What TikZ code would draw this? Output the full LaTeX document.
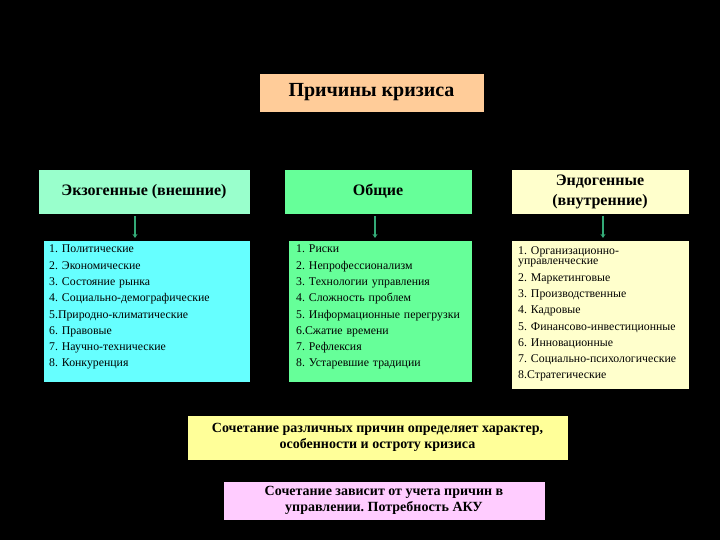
\documentclass[tikz,border=0pt]{standalone}
\usepackage{fontspec}
\setmainfont{Liberation Serif}
\usepackage{xcolor}
\usetikzlibrary{arrows.meta, calc, positioning}
\frenchspacing

\definecolor{titlefill}{HTML}{FFCC99}
\definecolor{exohead}{HTML}{99FFCC}
\definecolor{commonfill}{HTML}{66FF99}
\definecolor{endofill}{HTML}{FFFFCC}
\definecolor{exofill}{HTML}{66FFFF}
\definecolor{mixfill}{HTML}{FFFF99}
\definecolor{akufill}{HTML}{FFCCFF}
\definecolor{arrowcol}{HTML}{33AA77}

\tikzset{
  box/.style={rectangle, draw=black, line width=0.4pt, inner sep=0pt},
  head/.style={box, font=\bfseries\fontsize{16}{20}\selectfont, align=center},
  list/.style={box, font=\fontsize{11.8}{16.3}\selectfont\frenchspacing, align=left, anchor=north west},
  arr/.style={-{Stealth[length=4pt,width=5pt]}, draw=arrowcol, line width=1.8pt, shorten <=2pt, shorten >=2pt}
}

\begin{document}
\begin{tikzpicture}[x=1pt, y=-1pt]
  \fill[black] (0,0) rectangle (720,540);
  \useasboundingbox (0,0) rectangle (720,540);

  \node[head, fill=titlefill, minimum width=225pt, minimum height=39pt, font=\bfseries\fontsize{20}{24}\selectfont] (title) at (371.5,92.5) {Причины кризиса};

  \node[head, fill=exohead, minimum width=212pt, minimum height=45pt] (exo) at (144,191.5) {Экзогенные (внешние)};
  \node[head, fill=commonfill, minimum width=188pt, minimum height=45pt] (common) at (378,191.5) {Общие};
  \node[head, fill=endofill, minimum width=178pt, minimum height=45pt] (endo) at (600,191.5) {Эндогенные\\(внутренние)};

  \node[list, fill=exofill, inner xsep=6pt, text width=195pt, minimum height=142pt] (exolist) at (43,240) {%
    1. Политические\\
    2. Экономические\\
    3. Состояние рынка\\
    4. Социально-демографические\\
    5.Природно-климатические\\
    6. Правовые\\
    7. Научно-технические\\
    8. Конкуренция\\[-6pt]\mbox{}};
  \node[list, fill=commonfill, inner xsep=8pt, text width=168pt, minimum height=142pt] (commonlist) at (288,240) {%
    1. Риски\\
    2. Непрофессионализм\\
    3. Технологии управления\\
    4. Сложность проблем\\
    5. Информационные перегрузки\\
    6.Сжатие времени\\
    7. Рефлексия\\
    8. Устаревшие традиции\\[-6pt]\mbox{}};
  \node[list, fill=endofill, inner xsep=7pt, text width=164pt, minimum height=149pt] (endolist) at (511,240) {%
    1. Организационно-\\[-5.5pt]
    управленческие\\
    2. Маркетинговые\\
    3. Производственные\\
    4. Кадровые\\
    5. Финансово-инвестиционные\\
    6. Инновационные\\
    7. Социально-психологические\\
    8.Стратегические\\[-12pt]\mbox{}};

  \draw[arr] ([xshift=-9pt]exo.south) -- ([xshift=-9pt]exo.south |- exolist.north);
  \draw[arr] ([xshift=-3pt]common.south) -- ([xshift=-3pt]common.south |- commonlist.north);
  \draw[arr] ([xshift=3pt]endo.south) -- ([xshift=3pt]endo.south |- endolist.north);

  \node[head, fill=mixfill, minimum width=381pt, minimum height=45pt, font=\bfseries\fontsize{14}{15.5}\selectfont] (mix) at (377.5,437.5) {Сочетание различных причин определяет характер,\\особенности и остроту кризиса};
  \node[head, fill=akufill, minimum width=322pt, minimum height=39pt, font=\bfseries\fontsize{14}{15.5}\selectfont] (aku) at (384,500.5) {Сочетание зависит от учета причин в\\управлении. Потребность АКУ};
\end{tikzpicture}
\end{document}
